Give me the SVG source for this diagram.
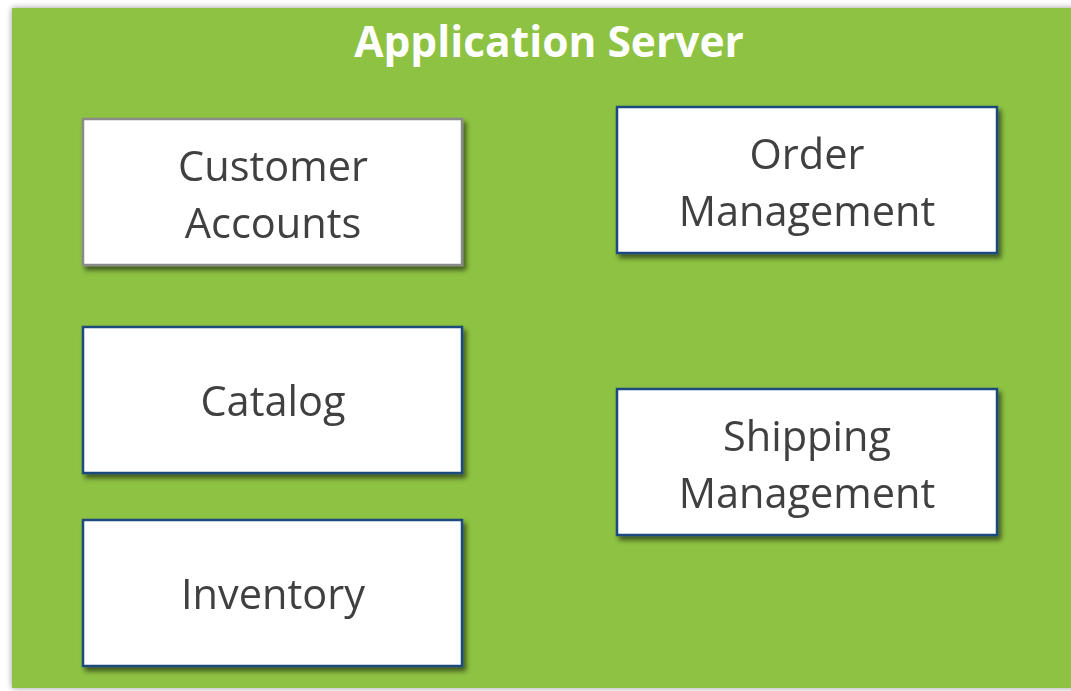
<svg xmlns="http://www.w3.org/2000/svg" width="1071" height="691" viewBox="0 0 1071 691">
<defs>
<filter id="sh" x="-10%" y="-10%" width="120%" height="130%">
<feGaussianBlur in="SourceAlpha" stdDeviation="2.5"/>
<feOffset dx="3" dy="4" result="b"/>
<feComponentTransfer><feFuncA type="linear" slope="0.55"/></feComponentTransfer>
<feMerge><feMergeNode/><feMergeNode in="SourceGraphic"/></feMerge>
</filter>
<filter id="osh" x="-5%" y="-5%" width="110%" height="110%">
<feGaussianBlur in="SourceAlpha" stdDeviation="3"/>
<feOffset dx="0" dy="0"/>
<feComponentTransfer><feFuncA type="linear" slope="0.4"/></feComponentTransfer>
<feMerge><feMergeNode/><feMergeNode in="SourceGraphic"/></feMerge>
</filter>
</defs>
<style>
.box{fill:#ffffff;stroke:#1b4a7e;stroke-width:2.5}
.gray{stroke:#8a8a8a}
.lbl{font-family:"Open Sans","Liberation Sans",sans-serif;font-size:41.5px;fill:#404040;text-anchor:middle}
.title{font-family:"Open Sans","Liberation Sans",sans-serif;font-size:42.5px;font-weight:bold;fill:#ffffff;text-anchor:middle}
</style>
<rect width="1071" height="691" fill="#ffffff"/>
<g id="server">
<rect x="12" y="8" width="1065" height="680" fill="#8dc243" filter="url(#osh)"/>
<text class="title" x="549" y="57">Application Server</text>
</g>
<g id="customer-accounts" filter="url(#sh)">
<rect class="box gray" x="83" y="119" width="379" height="146"/>
<text class="lbl" x="273" y="181">Customer</text>
<text class="lbl" x="273" y="238">Accounts</text>
</g>
<g id="order-management" filter="url(#sh)">
<rect class="box" x="617" y="107" width="380" height="146"/>
<text class="lbl" x="807" y="169">Order</text>
<text class="lbl" x="807" y="226">Management</text>
</g>
<g id="catalog" filter="url(#sh)">
<rect class="box" x="83" y="327" width="379" height="146"/>
<text class="lbl" x="273" y="416">Catalog</text>
</g>
<g id="shipping-management" filter="url(#sh)">
<rect class="box" x="617" y="389" width="380" height="146"/>
<text class="lbl" x="807" y="451">Shipping</text>
<text class="lbl" x="807" y="508">Management</text>
</g>
<g id="inventory" filter="url(#sh)">
<rect class="box" x="83" y="520" width="379" height="146"/>
<text class="lbl" x="273" y="609">Inventory</text>
</g>
<g id="connectors"/>
</svg>
